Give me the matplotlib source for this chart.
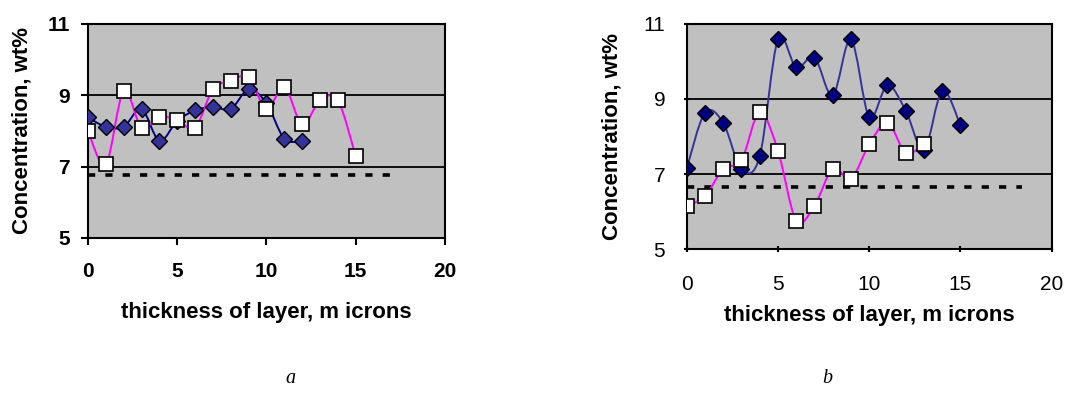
import matplotlib
matplotlib.use("Agg")
import matplotlib.pyplot as plt
import numpy as np
from matplotlib.path import Path
from matplotlib.patches import PathPatch

# ---- data ----
# panel a
a_diamond_x = [0, 1, 2, 3, 4, 5, 6, 7, 8, 9, 10, 11, 12]
a_diamond_y = [8.38, 8.11, 8.11, 8.61, 7.72, 8.28, 8.57, 8.67, 8.61, 9.16, 8.77, 7.78, 7.72]
a_square_x = [0, 1, 2, 3, 4, 5, 6, 7, 8, 9, 10, 11, 12, 13, 14, 15]
a_square_y = [8.00, 7.06, 9.12, 8.09, 8.40, 8.30, 8.09, 9.16, 9.40, 9.50, 8.61, 9.23, 8.18, 8.85, 8.85, 7.29]
a_ref_x = [0, 17.5]
a_ref_y = [6.77, 6.77]

# panel b
b_diamond_x = [0, 1, 2, 3, 4, 5, 6, 7, 8, 9, 10, 11, 12, 13, 14, 15]
b_diamond_y = [7.15, 8.63, 8.36, 7.13, 7.47, 10.58, 9.84, 10.10, 9.09, 10.58, 8.52, 9.36, 8.69, 7.64, 9.21, 8.30]
b_square_x = [0, 1, 2, 3, 4, 5, 6, 7, 8, 9, 10, 11, 12, 13]
b_square_y = [6.16, 6.41, 7.14, 7.37, 8.65, 7.62, 5.76, 6.16, 7.14, 6.88, 7.79, 8.37, 7.57, 7.79]
b_ref_x = [0, 18.4]
b_ref_y = [6.66, 6.66]

x_ticks = [0, 5, 10, 15, 20]
y_ticks = [5, 7, 9, 11]
xlabel = "thickness of layer, m icrons"
ylabel = "Concentration, wt%"

plt.rcParams['font.family'] = ['Liberation Sans', 'DejaVu Sans']


def smooth_line(ax, xs, ys, color, lw):
    # Excel-style smoothed line: cubic Bezier through the points
    pts = np.column_stack([xs, ys]).astype(float)
    n = len(pts)
    verts = [pts[0]]
    codes = [Path.MOVETO]
    for i in range(n - 1):
        p0 = pts[i - 1] if i > 0 else pts[i]
        p1 = pts[i]
        p2 = pts[i + 1]
        p3 = pts[i + 2] if i + 2 < n else pts[i + 1]
        verts += [p1 + (p2 - p0) / 6, p2 - (p3 - p1) / 6, p2]
        codes += [Path.CURVE4] * 3
    ax.add_patch(PathPatch(Path(verts, codes), fill=False, edgecolor=color,
                           lw=lw, zorder=3, capstyle='round', joinstyle='round'))


def setup_axes(ax, bold_ticks, tick_dir, ypad, xpad):
    ax.set_facecolor('#C0C0C0')
    ax.set_xlim(0, 20)
    ax.set_ylim(5, 11)
    ax.set_xticks(x_ticks)
    ax.set_yticks(y_ticks)
    ax.yaxis.grid(True, color='black', lw=1.3)
    ax.set_axisbelow(True)
    for s in ax.spines.values():
        s.set_linewidth(1.5)
        s.set_color('black')
    w = 'bold' if bold_ticks else 'normal'
    ax.tick_params(direction=tick_dir, length=5, width=1.5, labelsize=15)
    ax.tick_params(axis='y', pad=ypad)
    ax.tick_params(axis='x', pad=xpad)
    for lab in ax.get_xticklabels() + ax.get_yticklabels():
        lab.set_fontweight(w)
    ax.set_xlabel(xlabel, fontsize=16, fontweight='bold')
    ax.set_ylabel(ylabel, fontsize=16, fontweight='bold')


fig = plt.figure(figsize=(10.65, 3.94), dpi=100)

# ---- panel a ----
ax1 = fig.add_axes([0.0826, 0.396, 0.3352, 0.544])
setup_axes(ax1, True, 'out', 8, 12)
ax1.plot(a_ref_x, a_ref_y, color='black', lw=2.6, linestyle=(0, (2.0, 2.8)), zorder=2)
smooth_line(ax1, a_diamond_x, a_diamond_y, '#000080', 1.4)
smooth_line(ax1, a_square_x, a_square_y, '#FF00FF', 1.4)
ax1.plot(a_diamond_x, a_diamond_y, linestyle='none', marker='D', markersize=8.5,
         markerfacecolor='#333399', markeredgecolor='black', markeredgewidth=1.0, zorder=4)
ax1.plot(a_square_x, a_square_y, linestyle='none', marker='s', markersize=9.5,
         markerfacecolor='white', markeredgecolor='black', markeredgewidth=1.2, zorder=5)
ax1.xaxis.set_label_coords(0.5, -0.297)
ax1.yaxis.set_label_coords(-0.155, 0.5)

# ---- panel b ----
ax2 = fig.add_axes([0.6448, 0.3673, 0.3427, 0.5726])
setup_axes(ax2, False, 'inout', 13, 16)
ax2.plot(b_ref_x, b_ref_y, color='black', lw=2.6, linestyle=(0, (2.0, 2.8)), zorder=2)
smooth_line(ax2, b_diamond_x, b_diamond_y, '#333399', 1.4)
smooth_line(ax2, b_square_x, b_square_y, '#FF00FF', 1.4)
ax2.plot(b_diamond_x, b_diamond_y, linestyle='none', marker='D', markersize=8.5,
         markerfacecolor='#000080', markeredgecolor='black', markeredgewidth=1.0, zorder=4)
ax2.plot(b_square_x, b_square_y, linestyle='none', marker='s', markersize=9.5,
         markerfacecolor='white', markeredgecolor='black', markeredgewidth=1.2, zorder=5)
ax2.xaxis.set_label_coords(0.5, -0.247)
ax2.yaxis.set_label_coords(-0.177, 0.5)

# captions
fig.text(290 / 1065, 1 - 383 / 394, 'a', fontsize=14.5, style='italic',
         family=['Liberation Serif', 'DejaVu Serif'], ha='center', va='baseline')
fig.text(827 / 1065, 1 - 383 / 394, 'b', fontsize=14.5, style='italic',
         family=['Liberation Serif', 'DejaVu Serif'], ha='center', va='baseline')

fig.savefig('out.png', dpi=100)
